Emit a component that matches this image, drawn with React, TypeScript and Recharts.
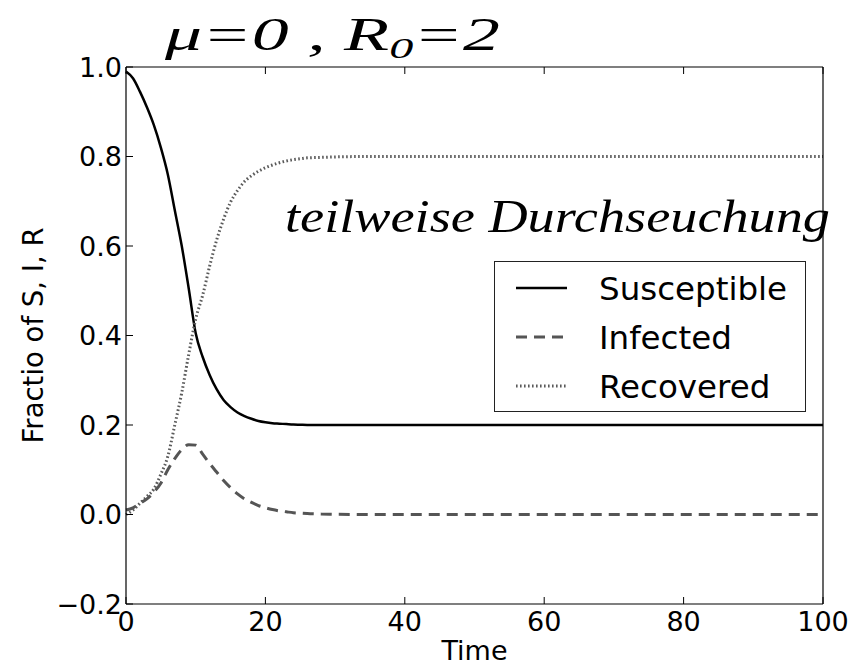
import React from 'react';
import { LineChart, Line, XAxis, YAxis, Legend, Customized } from 'recharts';

const times = [0, 1, 2, 3, 4, 5, 6, 7, 8, 9, 10, 11, 12, 13, 14, 15, 16, 17, 18, 19, 20, 21, 22, 23, 24, 25, 26, 28, 30, 35, 40, 50, 60, 70, 80, 90, 100];
const susceptible = [0.99, 0.975, 0.945, 0.91, 0.87, 0.82, 0.76, 0.68, 0.6, 0.505, 0.405, 0.352, 0.312, 0.28, 0.256, 0.24, 0.228, 0.22, 0.214, 0.209, 0.206, 0.204, 0.203, 0.202, 0.201, 0.2005, 0.2, 0.2, 0.2, 0.2, 0.2, 0.2, 0.2, 0.2, 0.2, 0.2, 0.2];
const infected = [0.01, 0.015, 0.025, 0.035, 0.05, 0.07, 0.1, 0.125, 0.145, 0.156, 0.155, 0.135, 0.114, 0.095, 0.076, 0.06, 0.046, 0.035, 0.027, 0.02, 0.015, 0.011, 0.008, 0.006, 0.004, 0.003, 0.002, 0.001, 0.0005, 0, 0, 0, 0, 0, 0, 0, 0];
const recovered = [0, 0.01, 0.025, 0.04, 0.057, 0.09, 0.13, 0.2, 0.272, 0.358, 0.437, 0.49, 0.555, 0.613, 0.66, 0.698, 0.724, 0.744, 0.757, 0.767, 0.775, 0.781, 0.786, 0.79, 0.793, 0.795, 0.797, 0.798, 0.799, 0.8, 0.8, 0.8, 0.8, 0.8, 0.8, 0.8, 0.8];

const xTicks = [0, 20, 40, 60, 80, 100];
const yTicks = [-0.2, 0, 0.2, 0.4, 0.6, 0.8, 1.0];

const seriesNames = ['Susceptible', 'Infected', 'Recovered'];

const data = times.map((t, i) => ({
  t,
  S: susceptible[i],
  I: infected[i],
  R: recovered[i],
}));

const FONT = "'DejaVu Sans', sans-serif";
const TICK_LEN = 7;

const fmtY = (v: number) => {
  const s = Math.abs(v).toFixed(1);
  return v < 0 ? '\u2212' + s : s;
};

const BottomTick = (props: any) => {
  const { x, y, payload } = props;
  const m = 6;
  return (
    <g>
      <line x1={x} y1={y - m} x2={x} y2={y - m - TICK_LEN} stroke="#000" strokeWidth={1} />
      <text x={x} y={y} dy="0.76em" textAnchor="middle" fontSize={27} fill="#000" fontFamily={FONT}>
        {String(payload.value)}
      </text>
    </g>
  );
};

const LeftTick = (props: any) => {
  const { x, y, payload } = props;
  const m = 4;
  return (
    <g>
      <line x1={x + m} y1={y} x2={x + m + TICK_LEN} y2={y} stroke="#000" strokeWidth={1} />
      <text x={x} y={y} dy="0.36em" textAnchor="end" fontSize={27} fill="#000" fontFamily={FONT}>
        {fmtY(payload.value)}
      </text>
    </g>
  );
};

const TopTick = (props: any) => {
  const { x, y } = props;
  return <line x1={x} y1={y} x2={x} y2={y + TICK_LEN} stroke="#000" strokeWidth={1} />;
};

const RightTick = (props: any) => {
  const { x, y } = props;
  return <line x1={x} y1={y} x2={x - TICK_LEN} y2={y} stroke="#000" strokeWidth={1} />;
};

const styles = [
  { stroke: '#000000', dash: undefined as string | undefined, width: 2.5 },
  { stroke: '#555555', dash: '11 7', width: 3 },
  { stroke: '#5a5a5a', dash: '1.6 2.4', width: 3 },
];

const LegendBox = () => (
  <div style={{ width: 312, height: 151, boxSizing: 'border-box', border: '1.5px solid #222', background: '#fff' }}>
    <svg width={309} height={148} style={{ display: 'block' }}>
      {seriesNames.map((name, i) => {
        const cy = 26 + i * 49;
        const st = styles[i];
        return (
          <g key={name}>
            <line x1={21} y1={cy} x2={72} y2={cy} stroke={st.stroke} strokeWidth={st.width} strokeDasharray={st.dash} />
            <text x={104} y={cy} dy="0.36em" fontSize={32.5} fill="#000" fontFamily={FONT}>
              {name}
            </text>
          </g>
        );
      })}
    </svg>
  </div>
);

const Annotations = () => (
  <g fill="#000">
    <text x={165} y={50} fontSize={46} fontStyle="italic" fontWeight="normal" fontFamily="'Liberation Serif', serif" textLength={335} lengthAdjust="spacingAndGlyphs">
      μ=0 , R<tspan dy={8} fontSize={30}>0</tspan><tspan dy={-8}>=2</tspan>
    </text>
    <text x={285} y={232} fontSize={46} fontStyle="italic" fontWeight="normal" fontFamily="'Liberation Serif', serif" textLength={545} lengthAdjust="spacingAndGlyphs">
      teilweise Durchseuchung
    </text>
  </g>
);

export default function App() {
  return (
    <div style={{ position: 'absolute', left: 0, top: 0, width: 863, height: 666, background: '#fff', fontFamily: FONT }}>
      <LineChart width={863} height={666} data={data} margin={{ top: 0, right: 0, bottom: 0, left: 0 }}>
        <XAxis
          dataKey="t"
          type="number"
          domain={[0, 100]}
          ticks={xTicks}
          height={62}
          tickSize={0}
          tickMargin={6}
          axisLine={{ stroke: '#000', strokeWidth: 1.2 }}
          tickLine={false}
          tick={<BottomTick />}
          interval={0}
          label={{ value: 'Time', position: 'insideBottom', offset: 6, fontSize: 27, fill: '#000' }}
        />
        <XAxis
          xAxisId="top"
          orientation="top"
          dataKey="t"
          type="number"
          domain={[0, 100]}
          ticks={xTicks}
          height={67}
          tickSize={0}
          tickMargin={0}
          axisLine={{ stroke: '#000', strokeWidth: 1.2 }}
          tickLine={false}
          tick={<TopTick />}
          interval={0}
        />
        <YAxis
          type="number"
          domain={[-0.2, 1.0]}
          ticks={yTicks}
          width={126}
          tickSize={0}
          tickMargin={4}
          axisLine={{ stroke: '#000', strokeWidth: 1.2 }}
          tickLine={false}
          tick={<LeftTick />}
          interval={0}
          label={{ value: 'Fractio of S, I, R', angle: -90, position: 'insideLeft', offset: 33, fontSize: 27.5, fill: '#000', style: { textAnchor: 'middle' } }}
        />
        <YAxis
          yAxisId="right"
          orientation="right"
          type="number"
          domain={[-0.2, 1.0]}
          ticks={yTicks}
          width={40}
          tickSize={0}
          tickMargin={0}
          axisLine={{ stroke: '#000', strokeWidth: 1.2 }}
          tickLine={false}
          tick={<RightTick />}
          interval={0}
        />
        <Line type="monotone" dataKey="S" name={seriesNames[0]} stroke={styles[0].stroke} strokeWidth={styles[0].width} dot={false} activeDot={false} isAnimationActive={false} />
        <Line type="monotone" dataKey="I" name={seriesNames[1]} stroke={styles[1].stroke} strokeWidth={styles[1].width} strokeDasharray={styles[1].dash} dot={false} activeDot={false} isAnimationActive={false} />
        <Line type="monotone" dataKey="R" name={seriesNames[2]} stroke={styles[2].stroke} strokeWidth={styles[2].width} strokeDasharray={styles[2].dash} dot={false} activeDot={false} isAnimationActive={false} />
        <Legend
          layout="vertical"
          align="center"
          verticalAlign="middle"
          content={() => <LegendBox />}
          wrapperStyle={{ position: 'absolute', left: 494, top: 261, width: 312, height: 151 }}
        />
        <Customized component={Annotations} />
      </LineChart>
    </div>
  );
}
